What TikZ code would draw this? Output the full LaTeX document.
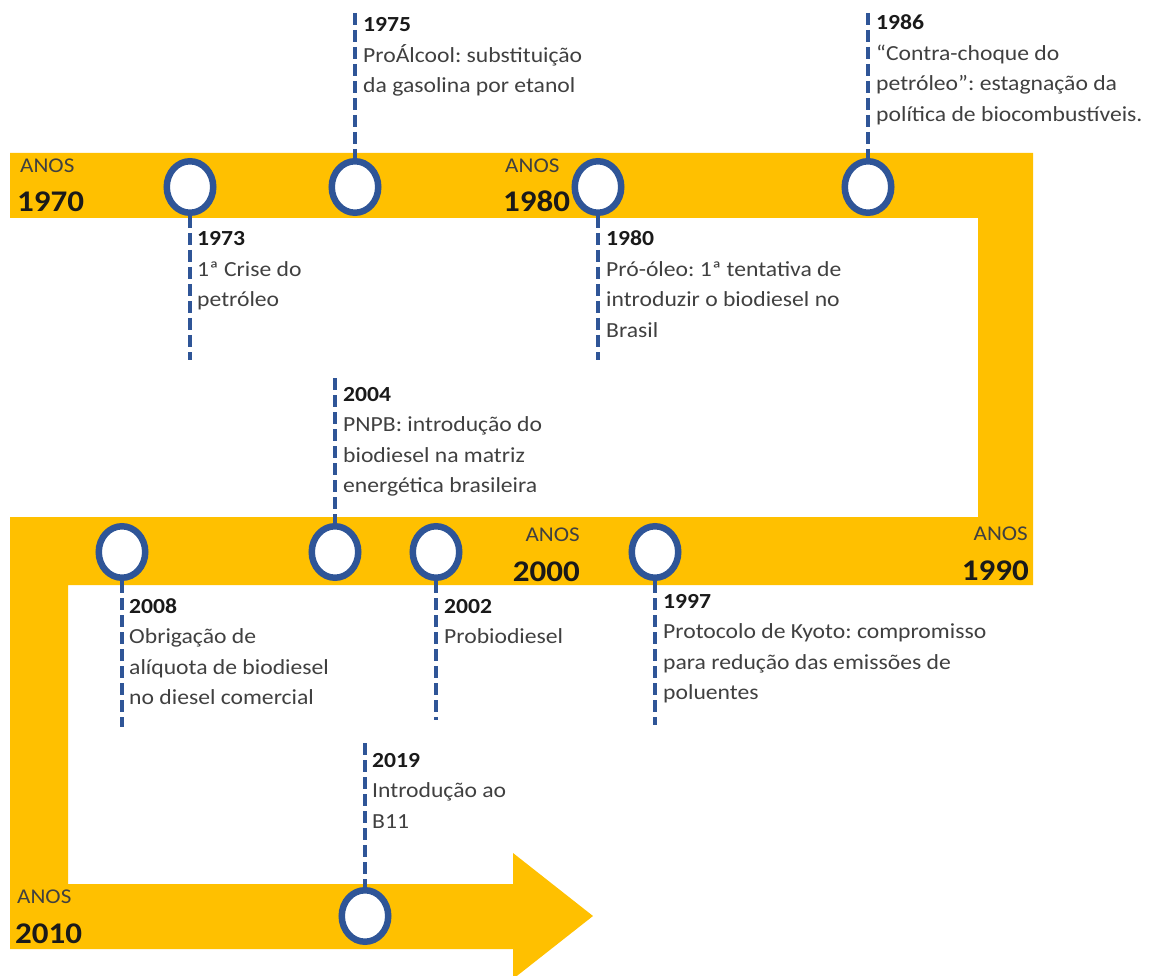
\documentclass[tikz,border=0pt]{standalone}
\usepackage{fontspec}
\setmainfont{Carlito}[FakeStretch=1.1]
\frenchspacing
\usetikzlibrary{shapes.geometric}
\definecolor{band}{HTML}{FFC000}
\definecolor{tlblue}{HTML}{2F5597}
\definecolor{bodygrey}{HTML}{404040}
\definecolor{yr}{HTML}{1A1A1A}
% event text: bold year on the first line, description below
\newcommand\evtext[2]{\parbox[t]{12cm}{\leavevmode{\bfseries\color{yr}#1}\\#2}}
\begin{document}
\begin{tikzpicture}[x=1pt,y=-1pt,
  milestone/.style={draw=tlblue, line width=6.5pt, fill=white, ellipse,
    minimum width=46.5pt, minimum height=51.5pt, inner sep=0pt},
  tick/.style={draw=tlblue, line width=4.5pt, dash pattern=on 12pt off 5pt},
  note/.style={anchor=base west, inner sep=0pt, text=bodygrey,
    font=\fontsize{21.5}{30.5}\selectfont},
  anos/.style={inner sep=0pt, text=bodygrey, font=\fontsize{21}{25}\selectfont},
  decade/.style={inner sep=0pt, text=yr, font=\fontsize{30}{36}\selectfont\bfseries}]
\useasboundingbox (0,0) rectangle (1154,976);

% the winding timeline band with its arrow head
\fill[band] (10,153) -- (1033,153) -- (1033,585) -- (68,585) -- (68,884)
  -- (513,884) -- (513,853) -- (593,916) -- (513,979) -- (513,949)
  -- (10,949) -- (10,517) -- (978,517) -- (978,218) -- (10,218) -- cycle;

% decade labels
\node[anos, anchor=base west] (a70) at (20,173) {ANOS};
\node[decade, anchor=base west] (d70) at (17,212) {1970};
\node[anos, anchor=base west] (a80) at (505,173) {ANOS};
\node[decade, anchor=base west] (d80) at (503,212) {1980};
\node[anos, anchor=base east] (a90) at (1028,540) {ANOS};
\node[decade, anchor=base east] (d90) at (1029,580) {1990};
\node[anos, anchor=base east] (a00) at (580,541) {ANOS};
\node[decade, anchor=base east] (d00) at (580,581) {2000};
\node[anos, anchor=base west] (a10) at (17,903) {ANOS};
\node[decade, anchor=base west] (d10) at (15,943) {2010};

% milestones on the band
\node[milestone] (c73) at (190,187) {};
\node[milestone] (c75) at (355,187) {};
\node[milestone] (c80) at (598,187) {};
\node[milestone] (c86) at (868,187) {};
\node[milestone] (c08) at (122,552) {};
\node[milestone] (c04) at (335,552) {};
\node[milestone] (c02) at (436,552) {};
\node[milestone] (c97) at (655,552) {};
\node[milestone] (c19) at (365,916) {};

% free ends of the dashed leaders
\coordinate (e73) at (190,360);
\coordinate (e75) at (355,13);
\coordinate (e80) at (598,360);
\coordinate (e86) at (868,13);
\coordinate (e04) at (335,378);
\coordinate (e08) at (122,727);
\coordinate (e02) at (436,720);
\coordinate (e97) at (655,725);
\coordinate (e19) at (365,743);

\draw[tick] (c73.south) -- (e73);
\draw[tick] (e75) -- (c75.north);
\draw[tick] (c80.south) -- (e80);
\draw[tick] (e86) -- (c86.north);
\draw[tick] (e04) -- (c04.north);
\draw[tick] (c08.south) -- (e08);
\draw[tick] (c02.south) -- (e02);
\draw[tick] (c97.south) -- (e97);
\draw[tick] (e19) -- (c19.north);

% event descriptions
\node[note] (n73) at (197,246) {\evtext{1973}{1ª Crise do\\petróleo}};
\node[note] (n75) at (363,32) {\evtext{1975}{ProÁlcool: substituição\\da gasolina por etanol}};
\node[note] (n80) at (606,246) {\evtext{1980}{Pró-óleo: 1ª tentativa de\\introduzir o biodiesel no\\Brasil}};
\node[note] (n86) at (876,30) {\evtext{1986}{“Contra-choque do\\petróleo”: estagnação da\\política de biocombustíveis.}};
\node[note] (n04) at (343,401) {\evtext{2004}{PNPB: introdução do\\biodiesel na matriz\\energética brasileira}};
\node[note] (n08) at (129,613) {\evtext{2008}{Obrigação de\\alíquota de biodiesel\\no diesel comercial}};
\node[note] (n02) at (444,613) {\evtext{2002}{Probiodiesel}};
\node[note] (n97) at (663,608) {\evtext{1997}{Protocolo de Kyoto: compromisso\\para redução das emissões de\\poluentes}};
\node[note] (n19) at (372,767) {\evtext{2019}{Introdução ao\\B11}};
\end{tikzpicture}
\end{document}
